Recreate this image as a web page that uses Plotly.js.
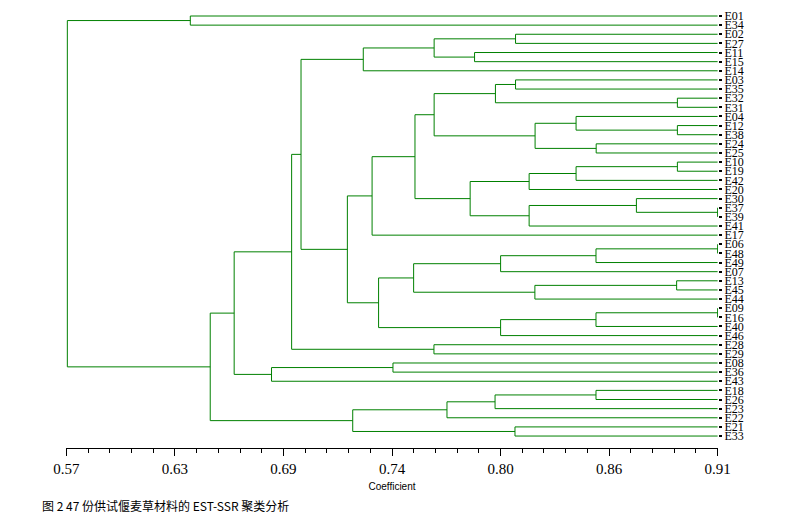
<!DOCTYPE html>
<html><head><meta charset="utf-8">
<script src="https://cdn.plot.ly/plotly-3.0.1.min.js"></script>
<style>body{margin:0;background:#fff}#chart{width:787px;height:524px}</style>
</head><body><div id="chart"></div>
<script>
// Leaf labels, top to bottom
const leafLabels = ["E01","E34","E02","E27","E11","E15","E14","E03","E35","E32","E31","E04","E12","E38","E24","E25","E10","E19","E42","E20","E30","E37","E39","E41","E17","E06","E48","E49","E07","E13","E45","E44","E09","E16","E40","E46","E28","E29","E08","E36","E43","E18","E26","E23","E22","E21","E33"];
// Linkage: ids < 47 are leaves, id 47+k is the cluster made by merge k
const mergeA = [21,25,32, 9,12,16,29,20,14,48,49,41,11,52,59,53,60,54, 2, 7,45,56,57,66,58, 4,63,71,65,70,36,68,76,38,78,79,75,74,82,83,86,80,87,89, 0,91];
const mergeB = [22,26,33,10,13,17,30,47,15,27,34,42,51,18,55,31,19,23, 3, 8,46,28,35,50,43, 5,64,44,72,61,37,62,73,39,69,24, 6,67,81,85,77,40,88,84, 1,90];
const mergeHeight = [0.91,0.91,0.91,0.889,0.889,0.889,0.8886,0.8676,0.8466,0.8465,0.8465,0.8465,0.8361,0.8361,0.8147,0.8146,0.8116,0.8116,0.8045,0.8045,0.8042,0.7967,0.7967,0.794,0.7938,0.7831,0.7808,0.7687,0.762,0.762,0.7619,0.7513,0.752,0.7405,0.733,0.7296,0.725,0.7195,0.7167,0.6925,0.6876,0.6771,0.6576,0.6451,0.6347,0.5705];
const leafCoefficient = 0.91;
const tickValues = [0.57,0.62667,0.68333,0.74,0.79667,0.85333,0.91];
const tickLabels = ["0.57","0.63","0.69","0.74","0.80","0.86","0.91"];

const n = leafLabels.length;
const posY = [], posX = [];
for (let i = 0; i < n; i++) { posY.push(i); posX.push(leafCoefficient); }
const xs = [], ys = [];
for (let k = 0; k < mergeA.length; k++) {
  const a = mergeA[k], b = mergeB[k], h = mergeHeight[k];
  xs.push(posX[a], h, h, posX[b], null);
  ys.push(posY[a], posY[a], posY[b], posY[b], null);
  posX.push(h); posY.push((posY[a] + posY[b]) / 2);
}

const data = [{
  type: 'scatter', mode: 'lines', x: xs, y: ys,
  line: {color: 'rgb(0,128,0)', width: 1}, hoverinfo: 'skip', showlegend: false
}];

const layout = {
  width: 787, height: 524,
  margin: {l: 66, r: 69, t: 10, b: 76},
  paper_bgcolor: '#fff', plot_bgcolor: '#fff',
  showlegend: false,
  xaxis: {
    range: [0.5698, 0.9102], showgrid: false, zeroline: false,
    showline: true, linecolor: '#000', linewidth: 1,
    tickmode: 'array', tickvals: tickValues, ticktext: tickLabels,
    ticks: 'outside', ticklen: 7, tickcolor: '#000', tickwidth: 1,
    minor: {tickmode: 'linear', tick0: 0.57, dtick: 0.0113333, ticks: 'outside', ticklen: 4, tickcolor: '#000', showgrid: false},
    tickfont: {family: 'Liberation Serif, serif', size: 15, color: '#000'},
    title: {text: 'Coefficient', font: {family: 'Liberation Sans Narrow, Liberation Sans, sans-serif', size: 10, color: '#000'}, standoff: 6}
  },
  yaxis: {
    range: [47.31, -0.657], side: 'right', showgrid: false, zeroline: false,
    showline: false,
    tickmode: 'array', tickvals: leafLabels.map((_, i) => i), ticktext: leafLabels,
    ticks: 'outside', ticklen: 3, tickwidth: 2, tickcolor: '#000',
    tickfont: {family: 'Liberation Serif, serif', size: 12, color: '#000'}
  },
  annotations: [{
    xref: 'paper', yref: 'paper', x: -0.04, y: -0.132, xanchor: 'left', yanchor: 'middle',
    showarrow: false, text: '图 2 47 份供试偃麦草材料的 EST-SSR 聚类分析',
    font: {family: 'Noto Sans CJK SC, sans-serif', size: 12, color: '#000'}
  }]
};
Plotly.newPlot('chart', data, layout, {displayModeBar: false, staticPlot: true});
</script>
</body></html>
